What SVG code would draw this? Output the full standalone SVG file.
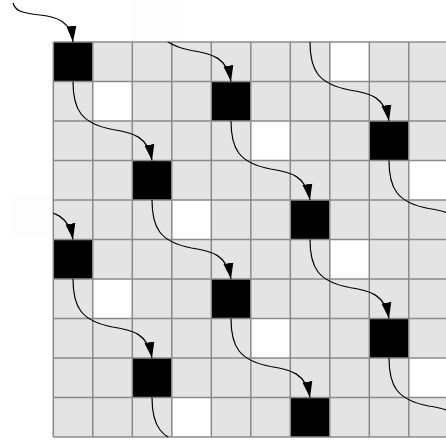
<svg xmlns="http://www.w3.org/2000/svg" width="446" height="443" viewBox="0 0 446 443">
  <style>
    .bg { fill: #e4e4e4; }
    .white { fill: #ffffff; }
    .black { fill: #000000; }
    .faint { fill: #fdfdfd; }
    .grid { fill: none; stroke: #8a8a8a; stroke-width: 1.5; }
    .link { fill: none; stroke: #000000; stroke-width: 1.2; marker-end: url(#arrow); }
  </style>
  <defs>
    <marker id="arrow" markerUnits="userSpaceOnUse" markerWidth="18" markerHeight="12" viewBox="0 -6 18 12" refX="16" refY="0" orient="auto">
      <path d="M0,-5 L16,0 L0,5 Z" fill="#000000"/>
    </marker>
    <clipPath id="gridClip">
      <rect x="53.3" y="42" width="400" height="395"/>
    </clipPath>
  </defs>

  <g id="faint-boxes">
    <rect class="faint" x="132" y="0" width="54" height="40"/>
    <rect class="faint" x="13" y="195" width="40" height="41"/>
  </g>

  <g id="grid-background">
    <rect class="bg" x="53.3" y="42" width="395" height="395"/>
  </g>

  <g id="white-cells">
    <rect id="w0" class="white" x="329.8" y="42" width="39.5" height="39.5"/>
    <rect id="w1" class="white" x="92.8" y="81.5" width="39.5" height="39.5"/>
    <rect id="w2" class="white" x="250.8" y="121" width="39.5" height="39.5"/>
    <rect id="w3" class="white" x="408.8" y="160.5" width="39.5" height="39.5"/>
    <rect id="w4" class="white" x="171.8" y="200" width="39.5" height="39.5"/>
    <rect id="w5" class="white" x="329.8" y="239.5" width="39.5" height="39.5"/>
    <rect id="w6" class="white" x="92.8" y="279" width="39.5" height="39.5"/>
    <rect id="w7" class="white" x="250.8" y="318.5" width="39.5" height="39.5"/>
    <rect id="w8" class="white" x="408.8" y="358" width="39.5" height="39.5"/>
    <rect id="w9" class="white" x="171.8" y="397.5" width="39.5" height="39.5"/>
  </g>

  <g id="node-r0c0"><rect class="black" x="53.3" y="42" width="39.5" height="39.5"/></g>
  <g id="node-r1c4"><rect class="black" x="211.3" y="81.5" width="39.5" height="39.5"/></g>
  <g id="node-r2c8"><rect class="black" x="369.3" y="121" width="39.5" height="39.5"/></g>
  <g id="node-r3c2"><rect class="black" x="132.3" y="160.5" width="39.5" height="39.5"/></g>
  <g id="node-r4c6"><rect class="black" x="290.3" y="200" width="39.5" height="39.5"/></g>
  <g id="node-r5c0"><rect class="black" x="53.3" y="239.5" width="39.5" height="39.5"/></g>
  <g id="node-r6c4"><rect class="black" x="211.3" y="279" width="39.5" height="39.5"/></g>
  <g id="node-r7c8"><rect class="black" x="369.3" y="318.5" width="39.5" height="39.5"/></g>
  <g id="node-r8c2"><rect class="black" x="132.3" y="358" width="39.5" height="39.5"/></g>
  <g id="node-r9c6"><rect class="black" x="290.3" y="397.5" width="39.5" height="39.5"/></g>

  <g id="grid-lines">
    <path class="grid" d="M53.3,42 V437 M92.8,42 V437 M132.3,42 V437 M171.8,42 V437 M211.3,42 V437 M250.8,42 V437 M290.3,42 V437 M329.8,42 V437 M369.3,42 V437 M408.8,42 V437 M53.3,42 H448 M53.3,81.5 H448 M53.3,121 H448 M53.3,160.5 H448 M53.3,200 H448 M53.3,239.5 H448 M53.3,279 H448 M53.3,318.5 H448 M53.3,358 H448 M53.3,397.5 H448 M53.3,437 H448"/>
  </g>

  <g id="connectors">
    <path class="link" d="M13,3 C15,11 22,13 40,15 C58,17 71,22 73,42"/>
    <g clip-path="url(#gridClip)">
      <path class="link" d="M152,2.5 c0,28 8,42 39.5,48 c20.5,3 35.5,7 39.5,31"/>
      <path class="link" d="M310,42 c0,28 8,42 39.5,48 c20.5,3 35.5,7 39.5,31"/>
      <path class="link" d="M73,81.5 c0,28 8,42 39.5,48 c20.5,3 35.5,7 39.5,31"/>
      <path class="link" d="M231,121 c0,28 8,42 39.5,48 c20.5,3 35.5,7 39.5,31"/>
      <path class="link" d="M389,160.5 c0,28 8,42 39.5,48 c20.5,3 35.5,7 39.5,31"/>
      <path class="link" d="M-6,160.5 c0,28 8,42 39.5,48 c20.5,3 35.5,7 39.5,31"/>
      <path class="link" d="M152,200 c0,28 8,42 39.5,48 c20.5,3 35.5,7 39.5,31"/>
      <path class="link" d="M310,239.5 c0,28 8,42 39.5,48 c20.5,3 35.5,7 39.5,31"/>
      <path class="link" d="M73,279 c0,28 8,42 39.5,48 c20.5,3 35.5,7 39.5,31"/>
      <path class="link" d="M231,318.5 c0,28 8,42 39.5,48 c20.5,3 35.5,7 39.5,31"/>
      <path class="link" d="M389,358 c0,28 8,42 39.5,48 c20.5,3 35.5,7 39.5,31"/>
      <path class="link" d="M152,397.5 c0,28 8,42 39.5,48 c20.5,3 35.5,7 39.5,31"/>
    </g>
  </g>
</svg>
